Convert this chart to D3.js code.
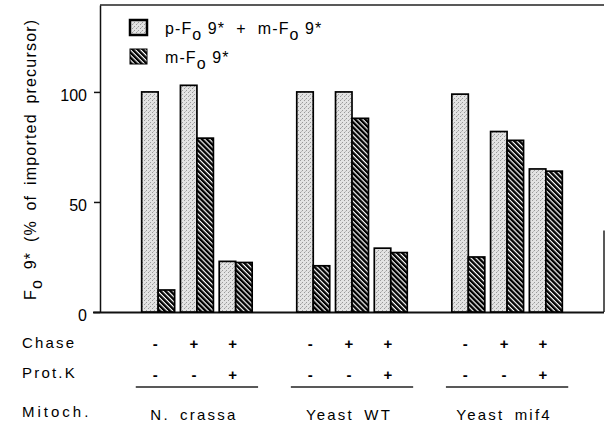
<!DOCTYPE html>
<html>
<head>
<meta charset="utf-8">
<script src="https://cdn.jsdelivr.net/npm/d3@7"></script>
<style>
  body { margin: 0; background: #fff; }
  text { font-family: "Liberation Sans", Arial, Helvetica, sans-serif; fill: #000; }
</style>
</head>
<body>
<div id="chart"></div>
<script>
// Дані
const groups = ["N. crassa", "Yeast WT", "Yeast mif4"];
const conditions = [0, 1, 2];
const chase = ["-", "+", "+"];
const protK = ["-", "-", "+"];
const totalValues = [[100, 103, 23], [100, 100, 29], [99, 82, 65]];   // p-Fo9* + m-Fo9*
const matureValues = [[10, 79, 22.5], [21, 88, 27], [25, 78, 64]];    // m-Fo9*
const seriesKeys = ["total", "mature"];
const seriesLabels = ["p-F_o 9*  +  m-F_o 9*", "m-F_o 9*"];
const rowLabels = ["Chase", "Prot.K", "Mitoch."];
const yTicks = [0, 50, 100];
const yLabel = "F_o 9* (% of imported precursor)";

const WIDTH = 605;
const HEIGHT = 428;
const LEFT = 100, RIGHT = 604, TOP = 5, BOTTOM = 312;

const svg = d3.select('#chart')
    .append('svg')
    .attr('width', WIDTH)
    .attr('height', HEIGHT);

// Візерунки заливки
const defs = svg.append('defs');
const dots = defs.append('pattern')
    .attr('id', 'dots')
    .attr('patternUnits', 'userSpaceOnUse')
    .attr('width', 4).attr('height', 4);
dots.append('rect').attr('width', 4).attr('height', 4).attr('fill', '#e3e3e3');
dots.append('rect').attr('x', 0).attr('y', 0).attr('width', 1).attr('height', 1).attr('fill', '#999');
dots.append('rect').attr('x', 2).attr('y', 2).attr('width', 1).attr('height', 1).attr('fill', '#999');
dots.append('rect').attr('x', 1).attr('y', 3).attr('width', 1).attr('height', 1).attr('fill', '#bbb');

const hatch = defs.append('pattern')
    .attr('id', 'hatch')
    .attr('patternUnits', 'userSpaceOnUse')
    .attr('width', 3.6).attr('height', 10)
    .attr('patternTransform', 'rotate(-45)');
hatch.append('rect').attr('width', 3.6).attr('height', 10).attr('fill', '#fff');
hatch.append('rect').attr('width', 2.4).attr('height', 10).attr('fill', '#000');

const fills = { total: 'url(#dots)', mature: 'url(#hatch)' };

// Шкали
const y = d3.scaleLinear().domain([0, 139.5]).range([BOTTOM, TOP]);
const x0 = d3.scaleBand().domain(groups).range([LEFT, RIGHT])
    .paddingInner(0.25).paddingOuter(0.25);
const x1 = d3.scaleBand().domain(conditions).range([0, x0.bandwidth()])
    .paddingInner(0.15).paddingOuter(0.075);
const xs = d3.scaleBand().domain(seriesKeys).range([0, x1.bandwidth()]);

// Текст з нижнім індексом "o"
function richText(sel, str, shift) {
    const parts = str.split('_o');
    parts.forEach((p, i) => {
        if (i > 0) {
            sel.append('tspan').attr('dy', shift).text('o');
            sel.append('tspan').attr('dy', -shift).text(p);
        } else {
            sel.append('tspan').text(p);
        }
    });
}

// Рамка
svg.append('line')
    .attr('x1', LEFT).attr('x2', RIGHT).attr('y1', TOP).attr('y2', TOP)
    .attr('stroke', '#222').attr('stroke-width', 1.5);
svg.append('line')
    .attr('x1', RIGHT).attr('x2', RIGHT).attr('y1', y(37)).attr('y2', BOTTOM)
    .attr('stroke', '#222').attr('stroke-width', 1.5);
svg.append('line')
    .attr('x1', LEFT - 7).attr('x2', RIGHT).attr('y1', BOTTOM + 0.5).attr('y2', BOTTOM + 0.5)
    .attr('stroke', '#111').attr('stroke-width', 1.8);

// Вісь Y
const yAxis = svg.append('g')
    .attr('transform', `translate(${LEFT},0)`)
    .call(d3.axisLeft(y).tickValues(yTicks).tickSize(6).tickPadding(7).tickSizeOuter(0));
yAxis.select('.domain').attr('stroke', '#111').attr('stroke-width', 1.5);
yAxis.selectAll('.tick line').attr('stroke', '#111').attr('stroke-width', 1.5);
yAxis.selectAll('.tick text')
    .attr('dy', '0.55em')
    .style('font-size', '16px')
    .style('font-family', '"Liberation Sans", Arial, sans-serif')
    .attr('fill', '#000');

// Підпис осі Y
const yl = svg.append('text')
    .attr('transform', 'translate(36,300) rotate(-90)')
    .style('font-size', '16px')
    .style('letter-spacing', '1.2px')
    .style('word-spacing', '4px');
richText(yl, yLabel, 6);

// Стовпчики
const pairs = [];
groups.forEach((g, gi) => {
    conditions.forEach(c => {
        pairs.push({ group: g, cond: c, key: 'total', value: totalValues[gi][c] });
        pairs.push({ group: g, cond: c, key: 'mature', value: matureValues[gi][c] });
    });
});

svg.append('g')
    .selectAll('rect')
    .data(pairs)
    .join('rect')
    .attr('x', d => x0(d.group) + x1(d.cond) + xs(d.key))
    .attr('y', d => y(d.value))
    .attr('width', xs.bandwidth())
    .attr('height', d => y(0) - y(d.value))
    .attr('fill', d => fills[d.key])
    .attr('stroke', '#000')
    .attr('stroke-width', 1.7);

// Легенда
const legend = svg.append('g');
seriesKeys.forEach((k, i) => {
    const ly = 20 + i * 29;
    legend.append('rect')
        .attr('x', 130).attr('y', ly)
        .attr('width', 17).attr('height', 15)
        .attr('fill', fills[k])
        .attr('stroke', '#000')
        .attr('stroke-width', k === 'total' ? 2.5 : 1);
    const t = legend.append('text')
        .attr('x', 165).attr('y', ly + 13.5)
        .attr('xml:space', 'preserve')
        .style('white-space', 'pre')
        .style('font-size', '16px')
        .style('letter-spacing', '1.1px');
    richText(t, seriesLabels[i], 6);
});

// Рядки умов під графіком
const rowY = [349, 380, 420];
rowLabels.forEach((r, i) => {
    svg.append('text')
        .attr('x', 22).attr('y', rowY[i] - (i === 0 ? 1 : i === 1 ? 2 : 3))
        .style('font-size', '15px')
        .style('letter-spacing', i === 2 ? '3px' : '2.2px')
        .text(r);
});

const condCx = (g, c) => x0(g) + x1(c) + x1.bandwidth() / 2 - 3;
[chase, protK].forEach((row, ri) => {
    groups.forEach(g => {
        svg.append('g')
            .selectAll('text')
            .data(conditions)
            .join('text')
            .attr('x', c => condCx(g, c))
            .attr('y', rowY[ri])
            .attr('text-anchor', 'middle')
            .style('font-size', '15px')
            .style('font-weight', 'bold')
            .text(c => row[c]);
    });
});

// Лінії під групами та назви мітохондрій
svg.append('g')
    .selectAll('line')
    .data(groups)
    .join('line')
    .attr('x1', g => x0(g) - 3)
    .attr('x2', g => x0(g) + x0.bandwidth() + 3)
    .attr('y1', 387).attr('y2', 387)
    .attr('stroke', '#222').attr('stroke-width', 1.5);

svg.append('g')
    .selectAll('text')
    .data(groups)
    .join('text')
    .attr('x', g => x0(g) + x0.bandwidth() / 2 - 3)
    .attr('y', rowY[2])
    .attr('text-anchor', 'middle')
    .style('font-size', '15px')
    .style('letter-spacing', '2.2px')
    .style('word-spacing', '4px')
    .text(g => g);
</script>
</body>
</html>
